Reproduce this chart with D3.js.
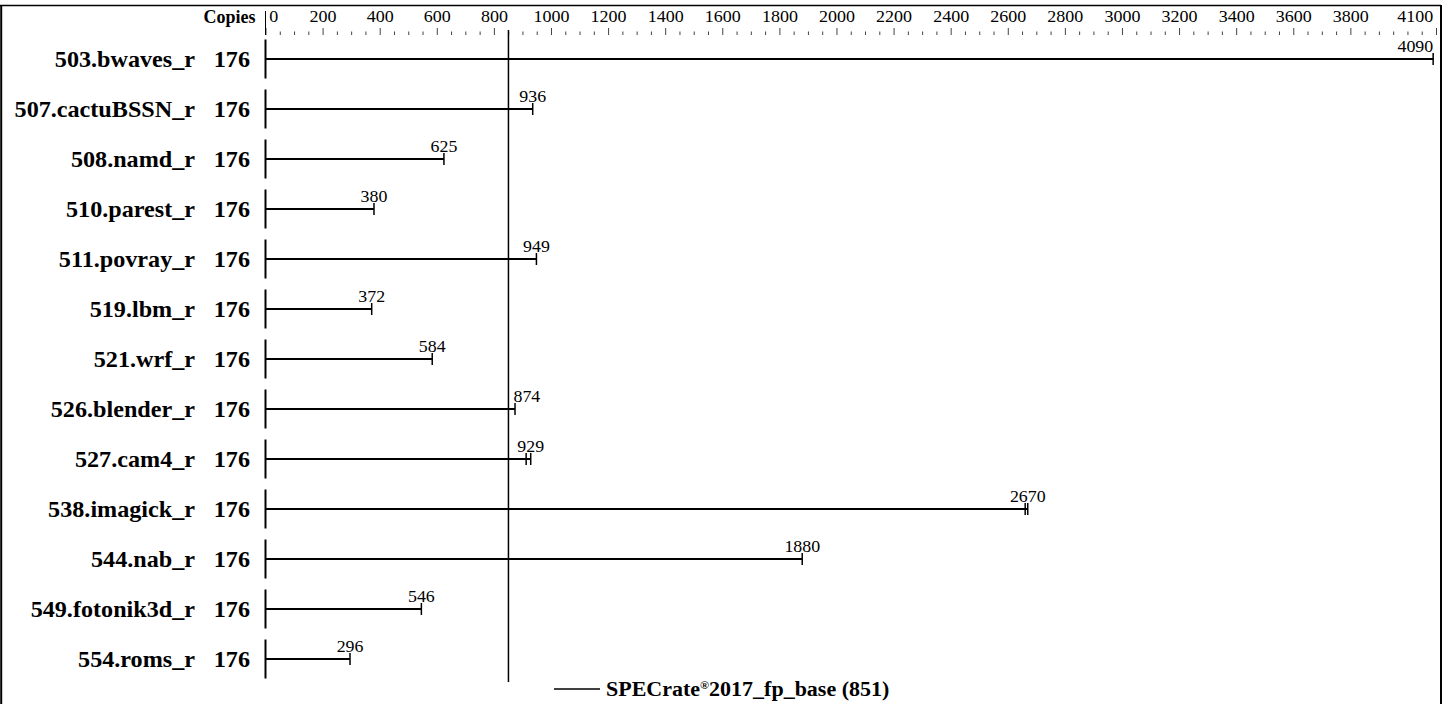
<!DOCTYPE html>
<html lang="en">
<head>
<meta charset="UTF-8">
<title>SPECrate2017_fp_base</title>
<script src="https://d3js.org/d3.v7.min.js"></script>
<style>
	body { margin: 0; background: #fff; }
	svg { display: block; }
	text { font-family: "Liberation Serif", serif; fill: #000; }
</style>
</head>
<body>
<svg id="chart" width="1451" height="704"></svg>
<script>

	var benchmarks = ["503.bwaves_r", "507.cactuBSSN_r", "508.namd_r", "510.parest_r", "511.povray_r",
		"519.lbm_r", "521.wrf_r", "526.blender_r", "527.cam4_r", "538.imagick_r", "544.nab_r",
		"549.fotonik3d_r", "554.roms_r"];
	var copies = [176, 176, 176, 176, 176, 176, 176, 176, 176, 176, 176, 176, 176];
	var medians = [4090, 936, 625, 380, 949, 372, 584, 874, 929, 2670, 1880, 546, 296];
	// the other runs, only where they show up as a separate tick
	var otherRuns = [[], [], [], [], [], [], [], [], [913], [2661], [], [], []];
	var majorTicks = [0, 200, 400, 600, 800, 1000, 1200, 1400, 1600, 1800, 2000, 2200, 2400, 2600,
		2800, 3000, 3200, 3400, 3600, 3800, 4100];
	var baseScore = 851;
	var legendLabel = "SPECrate";
	var legendRest = "2017_fp_base (" + baseScore + ")";

	var svg = d3.select("#chart");

	var x = d3.scaleLinear().domain([0, 4100]).range([265.5, 1436]);
	var y = d3.scaleBand().domain(benchmarks).range([34, 684]).padding(0);

	// text is drawn with a small horizontal stretch, like the original
	function label(g, px, py, str, anchor, size, weight, sx) {
		return g.append("text")
			.attr("transform", "translate(" + px + "," + py + ") scale(" + sx + ",1)")
			.attr("text-anchor", anchor)
			.attr("font-size", size)
			.attr("font-weight", weight)
			.text(str);
	}

	// frame
	svg.append("line").attr("x1", 0).attr("y1", 5.5).attr("x2", 1441).attr("y2", 5.5)
		.attr("stroke", "#000").attr("stroke-width", 1.5);
	svg.append("line").attr("x1", 1.2).attr("y1", 5).attr("x2", 1.2).attr("y2", 704)
		.attr("stroke", "#000").attr("stroke-width", 2);
	svg.append("line").attr("x1", 1441).attr("y1", 5).attr("x2", 1441).attr("y2", 704)
		.attr("stroke", "#000").attr("stroke-width", 2);

	// top scale
	var minorTicks = d3.range(0, 4101, 50).filter(function (v) { return majorTicks.indexOf(v) === -1; });

	svg.append("g")
		.attr("transform", "translate(0,35)")
		.call(d3.axisTop(x).tickValues(minorTicks).tickSize(3.5).tickFormat(""))
		.call(function (g) { g.select(".domain").remove(); })
		.selectAll("line").attr("stroke", "#444");

	var axisG = svg.append("g")
		.attr("transform", "translate(0,35)")
		.call(d3.axisTop(x).tickValues(majorTicks).tickSize(7).tickPadding(6).tickFormat(d3.format("d")));
	axisG.select(".domain").remove();
	axisG.selectAll("line").attr("stroke", "#444");
	axisG.selectAll("text")
		.style("font-family", "'Liberation Serif', serif")
		.attr("font-size", 17)
		.attr("fill", "#000")
		.attr("transform", "scale(1.06,1)")
		.attr("text-anchor", function (d, i) {
			if (i === 0) return "start";
			if (i === majorTicks.length - 1) return "end";
			return "middle";
		})
		.attr("x", function (d, i) {
			if (i === 0) return 3;
			if (i === majorTicks.length - 1) return -3;
			return 0;
		});

	svg.append("line")
		.attr("x1", x(0)).attr("y1", 11).attr("x2", x(0)).attr("y2", 35)
		.attr("stroke", "#000").attr("stroke-width", 1);

	label(svg, x(0) - 10, 23, "Copies", "end", 18, "bold", 1);

	// reference line for the base score
	svg.append("line")
		.attr("x1", x(baseScore)).attr("y1", 30)
		.attr("x2", x(baseScore)).attr("y2", 682)
		.attr("stroke", "#000").attr("stroke-width", 1.5);

	// rows
	var rows = svg.selectAll(".row")
		.data(benchmarks)
		.enter()
		.append("g")
		.attr("class", "row")
		.attr("transform", function (d) { return "translate(0," + (y(d) + y.bandwidth() / 2) + ")"; });

	rows.append("line")
		.attr("x1", x(0)).attr("x2", x(0))
		.attr("y1", -19.5).attr("y2", 19.5)
		.attr("stroke", "#000").attr("stroke-width", 2);

	rows.append("line")
		.attr("x1", x(0))
		.attr("x2", function (d, i) { return x(medians[i]); })
		.attr("y1", 0).attr("y2", 0)
		.attr("stroke", "#000").attr("stroke-width", 2);

	rows.each(function (d, i) {
		var g = d3.select(this);
		var runs = otherRuns[i].concat([medians[i]]);
		runs.forEach(function (v) {
			g.append("line")
				.attr("x1", x(v)).attr("x2", x(v))
				.attr("y1", -6).attr("y2", 6)
				.attr("stroke", "#000").attr("stroke-width", 1.5);
		});

		label(g, 195, 8, d, "end", 23, "bold", 1.05);
		label(g, 250, 8, copies[i], "end", 23, "bold", 1.05);

		// value label: centred on the end, moved off the reference line or the right edge
		var endX = x(medians[i]);
		var sx = 1.05;
		var t = label(g, endX, -7, medians[i], "middle", 17, "normal", sx);
		var w = t.node().getComputedTextLength() * sx;
		var refX = x(baseScore);
		if (endX + w / 2 > x.range()[1]) {
			t.attr("text-anchor", "end");
		} else if (endX - w / 2 < refX + 3 && endX + w / 2 > refX - 3) {
			t.attr("text-anchor", "start")
				.attr("transform", "translate(" + (endX - 1.5) + ",-7) scale(" + sx + ",1)");
		}
	});

	// legend
	svg.append("line")
		.attr("x1", 554).attr("x2", 600).attr("y1", 689).attr("y2", 689)
		.attr("stroke", "#000").attr("stroke-width", 1.5);
	var leg = label(svg, 606, 696, legendLabel, "start", 20, "bold", 1.1);
	leg.append("tspan").attr("font-size", 11).attr("dy", -7).text("®");
	leg.append("tspan").attr("dy", 7).text(legendRest);

</script>
</body>
</html>
